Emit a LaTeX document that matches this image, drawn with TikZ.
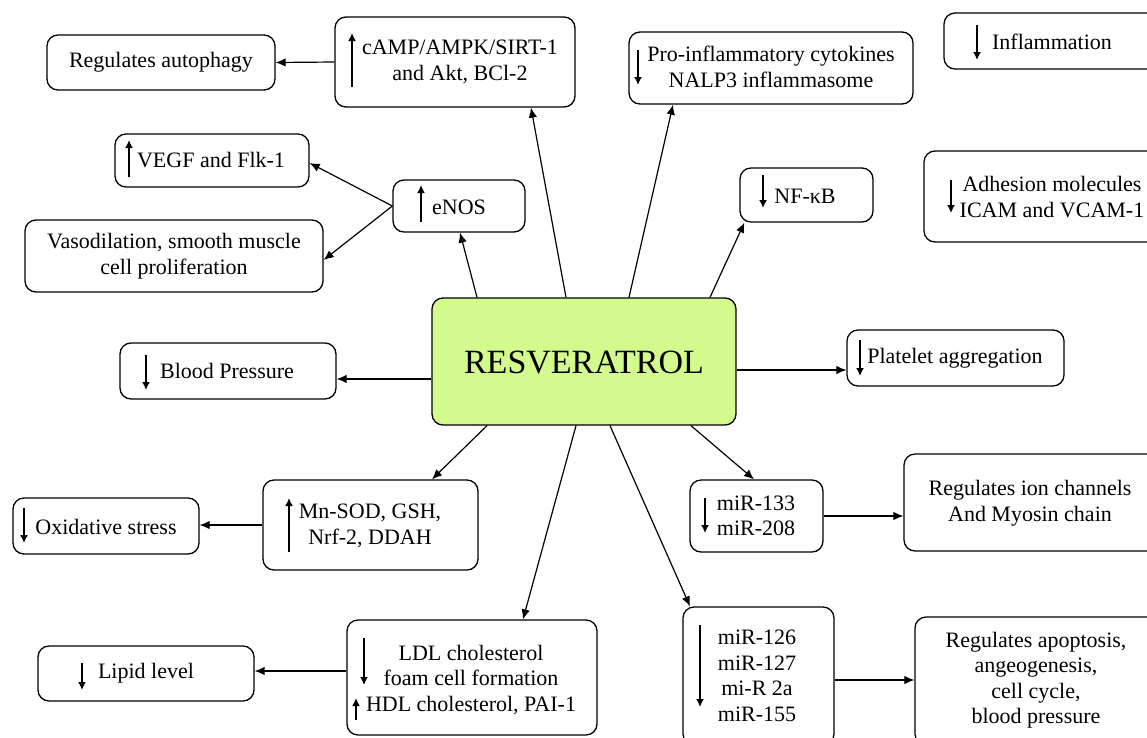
\documentclass[tikz,border=0pt]{standalone}
\usepackage{fontspec}
\setmainfont{Liberation Serif}
\usetikzlibrary{arrows.meta,calc}
\definecolor{resgreen}{RGB}{211,250,140}
\tikzset{
 box/.style={draw=black, line width=1.3pt, rounded corners=11pt, fill=white, inner sep=0pt},
 mainbox/.style={box, fill=resgreen},
 txt/.style={font=\fontsize{22}{25.5}\selectfont, align=center, inner sep=0pt},
 bigtxt/.style={font=\fontsize{34}{40}\selectfont, inner sep=0pt},
 conn/.style={line width=1.2pt, -{Latex[length=10pt,width=8.5pt]}},
 inarr/.style={line width=2.4pt, -{Latex[length=8pt,width=8pt]}},
}
\begin{document}
\begin{tikzpicture}[x=1pt,y=-1pt]
\useasboundingbox (0,0) rectangle (1147,737);
\clip (0,0) rectangle (1147,737);
\fill[white] (0,0) rectangle (1147,737);
% boxes
\node[box, minimum width=228pt, minimum height=55pt] (autoph) at (161,62.5) {};
\node[box, minimum width=240pt, minimum height=90pt] (camp) at (455,62) {};
\node[box, minimum width=194pt, minimum height=53pt] (vegf) at (212,160.5) {};
\node[box, minimum width=132pt, minimum height=52pt] (enos) at (459,206) {};
\node[box, minimum width=298pt, minimum height=72pt] (vaso) at (174,256) {};
\node[box, minimum width=284pt, minimum height=72pt] (proinf) at (771,68) {};
\node[box, minimum width=216pt, minimum height=56pt] (inflam) at (1052,41) {};
\node[box, minimum width=133pt, minimum height=54pt] (nfkb) at (806.5,195) {};
\node[box, minimum width=236pt, minimum height=91pt] (adhes) at (1042,196.5) {};
\node[mainbox, minimum width=304pt, minimum height=127pt] (resv) at (584,361.5) {};
\node[box, minimum width=216pt, minimum height=56pt] (bp) at (228,371) {};
\node[box, minimum width=217pt, minimum height=56pt] (plat) at (955.5,358) {};
\node[box, minimum width=186pt, minimum height=56pt] (oxid) at (106,526) {};
\node[box, minimum width=215pt, minimum height=90pt] (mnsod) at (370.5,525) {};
\node[box, minimum width=216pt, minimum height=55pt] (lipid) at (146,673.5) {};
\node[box, minimum width=250pt, minimum height=115pt] (ldl) at (472,677.5) {};
\node[box, minimum width=133pt, minimum height=72pt] (mirA) at (756.5,516) {};
\node[box, minimum width=256pt, minimum height=97pt] (ionch) at (1032,502.5) {};
\node[box, minimum width=151pt, minimum height=138pt] (mirB) at (758.5,676) {};
\node[box, minimum width=245pt, minimum height=128pt] (apop) at (1037.5,681) {};
% texts
\node[txt] (autophT) at (161,62) {Regulates autophagy};
\node[txt] (campT) at (460,62) {cAMP/AMPK/SIRT-1\\and Akt, BCl-2};
\node[txt] (vegfT) at (211,160) {VEGF and Flk-1};
\node[txt] (enosT) at (459,207) {eNOS};
\node[txt] (vasoT) at (174,256) {Vasodilation, smooth muscle\\cell proliferation};
\node[txt] (proinfT) at (771,67) {Pro-inflammatory cytokines\\NALP3 inflammasome};
\node[txt] (inflamT) at (1052,42) {Inflammation};
\node[txt] (nfkbT) at (805,196) {NF-κB};
\node[txt] (adhesT) at (1052,197) {Adhesion molecules\\ICAM and VCAM-1};
\node[bigtxt] (resvT) at (584,362) {RESVERATROL};
\node[txt] (bpT) at (227,371) {Blood Pressure};
\node[txt] (platT) at (955,358) {Platelet aggregation};
\node[txt] (oxidT) at (106,527) {Oxidative stress};
\node[txt] (mnsodT) at (370,526) {Mn-SOD, GSH,\\Nrf-2, DDAH};
\node[txt] (lipidT) at (146,673) {Lipid level};
\node[txt] (ldlT) at (471,680) {LDL cholesterol\\foam cell formation\\HDL cholesterol, PAI-1};
\node[txt] (mirAT) at (756,516) {miR-133\\miR-208};
\node[txt] (ionchT) at (1030,503) {Regulates ion channels\\And Myosin chain};
\node[txt] (mirBT) at (757,676) {miR-126\\miR-127\\mi-R 2a\\miR-155};
\node[txt] (apopT) at (1036,680) {Regulates apoptosis,\\angeogenesis,\\cell cycle,\\blood pressure};
% inner up/down arrows
\draw[inarr] (352,87) -- (352,33);
\draw[inarr] (129,177) -- (129,140);
\draw[inarr] (421,222) -- (421,185);
\draw[inarr] (638,50) -- (638,85);
\draw[inarr] (977,25) -- (977,60);
\draw[inarr] (763,175) -- (763,208);
\draw[inarr] (951,180) -- (951,213);
\draw[inarr] (146,355) -- (146,390);
\draw[inarr] (860,340) -- (860,376);
\draw[inarr] (24,508) -- (24,543);
\draw[inarr] (289,552) -- (289,498);
\draw[inarr] (82,663) -- (82,690);
\draw[inarr] (364,638) -- (364,685);
\draw[inarr] (356,720) -- (356,698);
\draw[inarr] (705,498) -- (705,533);
\draw[inarr] (700,625) -- (700,707);
% connectors
\draw[conn] (camp.west) -- (autoph.east);
\draw[conn] ($(resv.north)+(-18,0)$) -- ($(camp.south)+(76,0)$);
\draw[conn] ($(resv.north)+(-107,0)$) -- ($(enos.south)+(1,0)$);
\draw[conn] (enos.west) -- ($(vegf.east)+(0,2.5)$);
\draw[conn] (enos.west) -- ($(vaso.east)+(0,4)$);
\draw[conn] ($(resv.north)+(45,0)$) -- ($(proinf.south)+(-98,0)$);
\draw[conn] ($(resv.north)+(126,0)$) -- ($(nfkb.south west)+(5,0)$);
\draw[conn] ($(resv.west)+(0,17.5)$) -- ($(bp.east)+(0,8)$);
\draw[conn] ($(resv.east)+(0,8.5)$) -- ($(plat.west)+(0,12)$);
\draw[conn] ($(resv.south)+(-97,0)$) -- ($(mnsod.north)+(61.5,0)$);
\draw[conn] (mnsod.west) -- (mnsod.west -| oxid.east);
\draw[conn] ($(resv.south)+(-8,0)$) -- ($(ldl.north)+(51,0)$);
\draw[conn] ($(ldl.west)+(0,-6.5)$) -- ($(lipid.east)+(0,-2.5)$);
\draw[conn] ($(resv.south)+(107,0)$) -- ($(mirA.north)+(-2.5,0)$);
\draw[conn] (mirA.east) -- ($(ionch.west)+(0,13.5)$);
\draw[conn] ($(resv.south)+(26,0)$) -- ($(mirB.north)+(-68.5,0)$);
\draw[conn] ($(mirB.east)+(0,4)$) -- ($(apop.west)+(0,-1)$);
\end{tikzpicture}
\end{document}
